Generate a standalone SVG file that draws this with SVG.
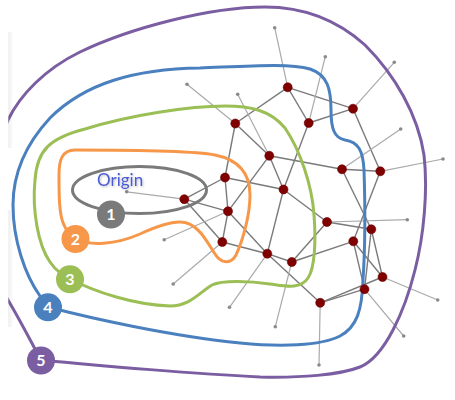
<svg xmlns="http://www.w3.org/2000/svg" width="455" height="400" viewBox="0 0 455 400">
<defs>
<style>
.edge{stroke:#7a7a7a;stroke-width:1.4;fill:none}
.leaf{stroke:#aaaaaa;stroke-width:1.2;fill:none}
.tip{fill:#8a8a8a}
.node{fill:#800000;stroke:#6a0000;stroke-width:0.6}
.ring{fill:none;stroke-width:3;stroke-linejoin:round}
.badge-t{font-family:Lato,"Liberation Sans",sans-serif;font-weight:bold;font-size:16px;fill:#ffffff;text-anchor:middle}
</style>
<linearGradient id="sh" x1="0" y1="0" x2="1" y2="0">
<stop offset="0" stop-color="#000" stop-opacity="0.07"/>
<stop offset="1" stop-color="#000" stop-opacity="0"/>
</linearGradient>
<filter id="ts" x="-20%" y="-30%" width="140%" height="160%">
<feDropShadow dx="1" dy="1" stdDeviation="0.8" flood-color="#000" flood-opacity="0.25"/>
</filter>
</defs>
<rect width="455" height="400" fill="#ffffff"/>
<g id="connectors">
<line class="edge" x1="287.7" y1="87.3" x2="235.3" y2="123.5"/>
<line class="edge" x1="287.7" y1="87.3" x2="308.7" y2="123"/>
<line class="edge" x1="287.7" y1="87.3" x2="353" y2="108.7"/>
<line class="edge" x1="308.7" y1="123" x2="353" y2="108.7"/>
<line class="edge" x1="308.7" y1="123" x2="283.5" y2="189.5"/>
<line class="edge" x1="235.3" y1="123.5" x2="269.3" y2="155.8"/>
<line class="edge" x1="235.3" y1="123.5" x2="225" y2="177.5"/>
<line class="edge" x1="269.3" y1="155.8" x2="342" y2="169.3"/>
<line class="edge" x1="342" y1="169.3" x2="380.3" y2="171.3"/>
<line class="edge" x1="353" y1="108.7" x2="380.3" y2="171.3"/>
<line class="edge" x1="225" y1="177.5" x2="283.5" y2="189.5"/>
<line class="edge" x1="269.3" y1="155.8" x2="228" y2="211.3"/>
<line class="edge" x1="269.3" y1="155.8" x2="283.5" y2="189.5"/>
<line class="edge" x1="283.5" y1="189.5" x2="267.3" y2="253.7"/>
<line class="edge" x1="283.5" y1="189.5" x2="327" y2="222"/>
<line class="edge" x1="184.3" y1="199.2" x2="225" y2="177.5"/>
<line class="edge" x1="184.3" y1="199.2" x2="228" y2="211.3"/>
<line class="edge" x1="184.3" y1="199.2" x2="222.3" y2="242"/>
<line class="edge" x1="225" y1="177.5" x2="228" y2="211.3"/>
<line class="edge" x1="228" y1="211.3" x2="222.3" y2="242"/>
<line class="edge" x1="228" y1="211.3" x2="267.3" y2="253.7"/>
<line class="edge" x1="222.3" y1="242" x2="267.3" y2="253.7"/>
<line class="edge" x1="267.3" y1="253.7" x2="291.8" y2="262"/>
<line class="edge" x1="267.3" y1="253.7" x2="320.2" y2="302.8"/>
<line class="edge" x1="291.8" y1="262" x2="327" y2="222"/>
<line class="edge" x1="291.8" y1="262" x2="353.3" y2="241.3"/>
<line class="edge" x1="327" y1="222" x2="371.3" y2="229.3"/>
<line class="edge" x1="342" y1="169.3" x2="371.3" y2="229.3"/>
<line class="edge" x1="380.3" y1="171.3" x2="353.3" y2="241.3"/>
<line class="edge" x1="353.3" y1="241.3" x2="364.5" y2="289.2"/>
<line class="edge" x1="353.3" y1="241.3" x2="382.5" y2="277"/>
<line class="edge" x1="371.3" y1="229.3" x2="382.5" y2="277"/>
<line class="edge" x1="371.3" y1="229.3" x2="364.5" y2="289.2"/>
<line class="edge" x1="320.2" y1="302.8" x2="364.5" y2="289.2"/>
<line class="edge" x1="320.2" y1="302.8" x2="382.5" y2="277"/>
<line class="leaf" x1="235.3" y1="123.5" x2="187" y2="84.2"/>
<line class="leaf" x1="269.3" y1="155.8" x2="237.7" y2="94.2"/>
<line class="leaf" x1="287.7" y1="87.3" x2="274.7" y2="27.7"/>
<line class="leaf" x1="308.7" y1="123" x2="325.3" y2="56.7"/>
<line class="leaf" x1="353" y1="108.7" x2="394.3" y2="62.3"/>
<line class="leaf" x1="342" y1="169.3" x2="400.7" y2="129"/>
<line class="leaf" x1="380.3" y1="171.3" x2="443" y2="159"/>
<line class="leaf" x1="184.3" y1="199.2" x2="126.7" y2="191.8"/>
<line class="leaf" x1="228" y1="211.3" x2="164.2" y2="239.8"/>
<line class="leaf" x1="222.3" y1="242" x2="173.2" y2="284"/>
<line class="leaf" x1="267.3" y1="253.7" x2="229.5" y2="307.3"/>
<line class="leaf" x1="291.8" y1="262" x2="275.3" y2="326.7"/>
<line class="leaf" x1="327" y1="222" x2="407.3" y2="219.7"/>
<line class="leaf" x1="382.5" y1="277" x2="437.7" y2="300"/>
<line class="leaf" x1="364.5" y1="289.2" x2="403.7" y2="336"/>
<line class="leaf" x1="320.2" y1="302.8" x2="319" y2="365"/>
<circle class="tip" cx="187" cy="84.2" r="1.8"/>
<circle class="tip" cx="237.7" cy="94.2" r="1.8"/>
<circle class="tip" cx="274.7" cy="27.7" r="1.8"/>
<circle class="tip" cx="325.3" cy="56.7" r="1.8"/>
<circle class="tip" cx="394.3" cy="62.3" r="1.8"/>
<circle class="tip" cx="400.7" cy="129" r="1.8"/>
<circle class="tip" cx="443" cy="159" r="1.8"/>
<circle class="tip" cx="126.7" cy="191.8" r="1.8"/>
<circle class="tip" cx="164.2" cy="239.8" r="1.8"/>
<circle class="tip" cx="173.2" cy="284" r="1.8"/>
<circle class="tip" cx="229.5" cy="307.3" r="1.8"/>
<circle class="tip" cx="275.3" cy="326.7" r="1.8"/>
<circle class="tip" cx="407.3" cy="219.7" r="1.8"/>
<circle class="tip" cx="437.7" cy="300" r="1.8"/>
<circle class="tip" cx="403.7" cy="336" r="1.8"/>
<circle class="tip" cx="319" cy="365" r="1.8"/>
</g>
<g id="ring5">
<path class="ring" stroke="#7b5ea1" d="M41,360 C100,366 200,374 260,377 C300,378 340,375 360,367 C385,357 405,310 415,270 C424,235 428,190 424,155 C418,115 395,75 365,45 C335,18 300,7 265,7 C210,7 130,28 80,52 C45,69 20,95 8,120 C-5,148 -8,275 8,300 C20,320 30,340 41,360 Z"/>
</g>
<rect x="0" y="0" width="8.3" height="400" fill="#ffffff"/>
<rect x="8.3" y="32" width="5" height="116" fill="url(#sh)"/>
<rect x="8.3" y="210" width="5" height="117" fill="url(#sh)"/>
<g id="ring4">
<path class="ring" stroke="#4b80bf" d="M48,307 C90,318 170,336 240,343 C280,347 320,346 340,336 C357,327 362,310 363,280 C365,250 365,200 364,170 C363,150 358,142 345,140 C334,138 331,128 331,110 C331,90 328,75 310,69 C290,63 250,66 200,68 C135,69 85,83 50,118 C25,145 13,175 13,205 C13,240 25,275 40,296 C43,301 45,304 48,307 Z"/>
</g>
<g id="ring3">
<path class="ring" stroke="#9bbe55" d="M70,279 C95,292 135,305 170,306 C190,306 200,292 212,285 C222,280 250,281 270,284 C285,286 300,290 308,278 C315,268 316,240 314,215 C312,185 300,150 285,128 C270,110 250,106 225,106 C190,106 130,115 85,129 C50,138 37,150 35,180 C32,210 38,245 50,262 C56,271 63,275 70,279 Z"/>
</g>
<g id="ring2">
<path class="ring" stroke="#f7974a" d="M75,239 C90,246 115,245 140,234 C155,227 168,222 180,222 C198,222 207,242 215,254 C220,262 230,266 236,255 C243,240 250,215 250,195 C250,175 240,160 215,155 C190,150 120,150 75,150 C62,150 59,160 59,175 C59,195 59,215 64,225 C67,232 71,236 75,239 Z"/>
</g>
<g id="ring1">
<ellipse class="ring" stroke="#7a7a7a" cx="139.5" cy="190" rx="67" ry="23.5"/>
<text x="97" y="186" font-family="Lato,'Liberation Sans',sans-serif" font-size="17" fill="#4b5bd2" filter="url(#ts)">Origin</text>
</g>
<g id="nodes">
<circle class="node" cx="287.7" cy="87.3" r="4.5"/>
<circle class="node" cx="353" cy="108.7" r="4.5"/>
<circle class="node" cx="308.7" cy="123" r="4.5"/>
<circle class="node" cx="235.3" cy="123.5" r="4.5"/>
<circle class="node" cx="269.3" cy="155.8" r="4.5"/>
<circle class="node" cx="342" cy="169.3" r="4.5"/>
<circle class="node" cx="380.3" cy="171.3" r="4.5"/>
<circle class="node" cx="283.5" cy="189.5" r="4.5"/>
<circle class="node" cx="225" cy="177.5" r="4.5"/>
<circle class="node" cx="184.3" cy="199.2" r="4.5"/>
<circle class="node" cx="228" cy="211.3" r="4.5"/>
<circle class="node" cx="222.3" cy="242" r="4.5"/>
<circle class="node" cx="267.3" cy="253.7" r="4.5"/>
<circle class="node" cx="291.8" cy="262" r="4.5"/>
<circle class="node" cx="327" cy="222" r="4.5"/>
<circle class="node" cx="371.3" cy="229.3" r="4.5"/>
<circle class="node" cx="353.3" cy="241.3" r="4.5"/>
<circle class="node" cx="382.5" cy="277" r="4.5"/>
<circle class="node" cx="364.5" cy="289.2" r="4.5"/>
<circle class="node" cx="320.2" cy="302.8" r="4.5"/>
</g>
<g id="badge1"><circle cx="111" cy="214.5" r="14" fill="#7a7a7a"/><text class="badge-t" x="111" y="220.3">1</text></g>
<g id="badge2"><circle cx="75.5" cy="239" r="14" fill="#f7974a"/><text class="badge-t" x="75.5" y="244.8">2</text></g>
<g id="badge3"><circle cx="70" cy="279.3" r="14" fill="#9bbe55"/><text class="badge-t" x="70" y="285.1">3</text></g>
<g id="badge4"><circle cx="48" cy="307.3" r="14" fill="#4b80bf"/><text class="badge-t" x="48" y="313.1">4</text></g>
<g id="badge5"><circle cx="41" cy="360.5" r="14" fill="#7b5ea1"/><text class="badge-t" x="41" y="366.3">5</text></g>
</svg>
